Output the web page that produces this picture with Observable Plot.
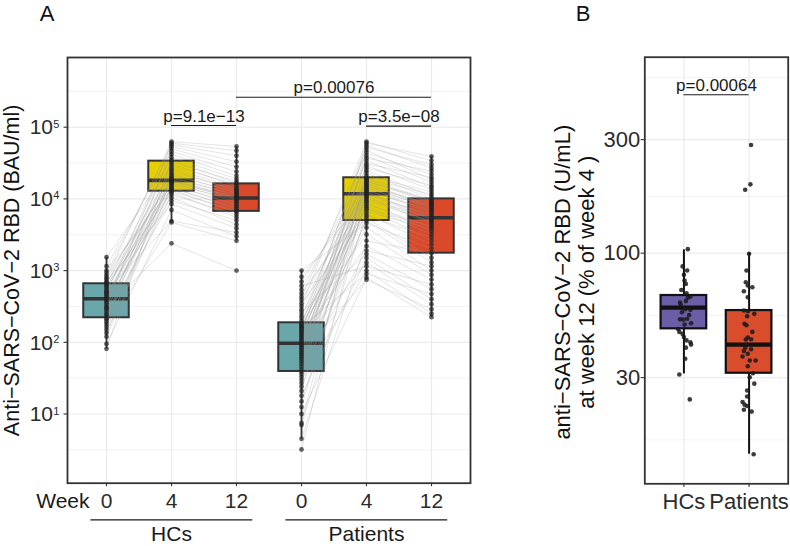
<!DOCTYPE html>
<html><head><meta charset="utf-8">
<script src="https://cdn.jsdelivr.net/npm/d3@7"></script>
<script src="https://cdn.jsdelivr.net/npm/@observablehq/plot@0.6"></script>
<style>
body{margin:0;background:#fff;}
#wrap{position:relative;width:790px;height:546px;overflow:hidden;}
#a{position:absolute;left:0;top:0;}
#b{position:absolute;left:545px;top:0;}
</style></head>
<body><div id="wrap"><div id="a"></div><div id="b"></div></div>
<script>
// ---------- Panel A data ----------
const groups = ["HCs", "Patients"];
const weeks = ["0", "4", "12"];

const hcWeek0 = [300, 150, 520, 95, 700, 240, 430, 180, 620, 350, 1000, 210, 470, 120, 560, 330, 860, 250, 404, 165, 680, 290, 590, 135, 450, 760, 222, 390, 1540, 270, 510, 81, 650, 370, 1150, 195, 490, 930, 310, 800];
const hcWeek4 = [2400, 4700, 4900, 7000, 8500, 9500, 10500, 11500, 12300, 12800, 13500, 14000, 14500, 15200, 16000, 16500, 17000, 17500, 18000, 18200, 18800, 19500, 20500, 21500, 22500, 24000, 25500, 27000, 29000, 31000, 33000, 35000, 38000, 42000, 46000, 50000, 54000, 57000, 60000, 63000];
const hcWeek12 = [1000, 2600, 3400, 3000, 3900, 5000, 4400, 6000, 5500, 6800, 6500, 7600, 7200, 8500, 8000, 9500, 9000, 10100, 9800, 10500, 10300, 11500, 11000, 12500, 12000, 13500, 13000, 14000, 15800, 15000, 17500, 16500, 19000, 21000, 24000, 28000, 33000, 40000, 47000, 53800];

const ptWeek0 = [70, 10, 162, 30, 610, 97, 18, 265, 42, 126, 4.5, 180, 86, 1000, 54, 24, 350, 114, 7.0, 200, 78, 144, 36, 480, 94, 15, 168, 62, 820, 132, 27, 240, 3.2, 102, 390, 50, 156, 12.5, 82, 700, 39, 187, 120, 21, 290, 66, 150, 7.5, 540, 90, 33, 220, 108, 58, 430, 46, 174, 74, 138, 320];
const ptWeek4 = [745, 800, 900, 1000, 1150, 1300, 1500, 1700, 1900, 2200, 2600, 3200, 4000, 4600, 5000, 5400, 5800, 6200, 6700, 7200, 7600, 8000, 8500, 9000, 9500, 10000, 10500, 11000, 11400, 11800, 12200, 12600, 13000, 13500, 14000, 14500, 15000, 15600, 16200, 16800, 17400, 18000, 18600, 19200, 19700, 21000, 23000, 25000, 27000, 29000, 31000, 34000, 37000, 40000, 44000, 48000, 52000, 56000, 60000, 63000];
const ptWeek12 = [290, 224, 470, 250, 640, 340, 400, 550, 1150, 750, 1750, 870, 1000, 2000, 1300, 1500, 2900, 2300, 3800, 4200, 2600, 3200, 4000, 3500, 4900, 5450, 4500, 4700, 6000, 5100, 5700, 5300, 6900, 6300, 7800, 6600, 8400, 7200, 8100, 7500, 9700, 8700, 9000, 11600, 9300, 12500, 10000, 10800, 15500, 13500, 20000, 14500, 24500, 17000, 22000, 18500, 30000, 27000, 39000, 34000];

// box summaries: HCs 0,4,12 then Patients 0,4,12
const boxLowA = [81, 4700, 2600, 4.5, 745, 224];
const boxQ1A = [220, 12800, 6700, 39.2, 5000, 1750];
const boxMedA = [404, 18100, 10300, 97, 11800, 5450];
const boxQ3A = [655, 33600, 16200, 187, 19700, 10000];
const boxHighA = [1540, 63000, 53800, 1000, 63000, 39000];

const yTicksA = [10, 100, 1000, 10000, 100000];
const yTickBaseA = ["10", "10", "10", "10", "10"];
const yTickExpA = ["1", "2", "3", "4", "5"];
const yMinorA = [Math.pow(10,0.5), Math.pow(10,1.5), Math.pow(10,2.5), Math.pow(10,3.5), Math.pow(10,4.5), Math.pow(10,5.5)];

const pLabelsA = ["p=9.1e\u221213", "p=0.00076", "p=3.5e\u221208"];
const pFromA = [["HCs","4"], ["HCs","12"], ["Patients","4"]];
const pToA = [["HCs","12"], ["Patients","12"], ["Patients","12"]];
const pYA = [105500, 262000, 103500];

// ---------- Panel B data ----------
const hcRatio = [104, 84.6, 81.1, 76.8, 74.3, 67.9, 65.8, 65.0, 62.9, 60.8, 58.2, 57.8, 56.5, 52.8, 52.6, 53.0, 50.8, 50.1, 46.7, 45.8, 44.4, 42.2, 41.3, 40.1, 30.9, 24.3, 88, 70, 62, 55, 48, 43, 36];
const hcJitter = [0.06, 0.05, 0, 0.01, 0.03, 0.04, 0.10, 0.06, 0.03, -0.05, 0.02, 0.10, -0.03, -0.06, -0.01, 0.05, 0.11, 0.01, -0.07, -0.02, 0, 0.10, 0.11, 0.03, -0.07, 0.09, -0.02, -0.04, -0.06, 0.08, -0.09, 0.04, 0.02];
const ptRatio = [285, 194.6, 184.6, 99.4, 84.6, 75.5, 73.1, 69.2, 71.9, 65.3, 57.4, 57.0, 55.6, 54.3, 50.5, 49.8, 46.7, 44.2, 43.4, 43.5, 41.3, 40.1, 39.5, 38.8, 37.8, 36.8, 35.4, 35.4, 33.5, 31.3, 30.1, 28.3, 26.5, 25.0, 23.7, 23.1, 22.8, 22.0, 21.6, 14.3];
const ptJitter = [0.03, 0.02, -0.06, 0, -0.04, -0.05, -0.02, -0.08, 0.05, -0.02, -0.08, -0.02, 0.08, -0.03, -0.07, -0.04, 0.05, -0.02, -0.05, 0.03, -0.03, -0.06, 0.03, -0.08, -0.02, -0.10, 0.01, 0.10, -0.02, 0.06, 0.01, 0.08, -0.03, -0.03, -0.10, -0.07, -0.03, -0.08, 0.04, 0.07];

const boxLowB = [31.1, 14.3];
const boxQ1B = [48.1, 31.3];
const boxMedB = [59.0, 41.3];
const boxQ3B = [66.4, 57.4];
const boxHighB = [103.3, 100];

const yTicksB = [30, 100, 300];
const yTickLabelsB = ["30", "100", "300"];
const yMinorB = [Math.pow(10,1.2155), Math.pow(10,1.7386), Math.pow(10,2.2386), Math.pow(10,2.7386)];
const pLabelB = "p=0.00064";
const pYB = 463;

// ---------- build ----------
const FONT = "'Liberation Sans', Arial, Helvetica, sans-serif";
const slot = (g, w) => groups.indexOf(g) * 3 + weeks.indexOf(w) + 1;

const rowsA = [];
[["HCs", [hcWeek0, hcWeek4, hcWeek12]], ["Patients", [ptWeek0, ptWeek4, ptWeek12]]].forEach(([g, arrs]) => {
  arrs[0].forEach((_, i) => {
    weeks.forEach((w, k) => rowsA.push({subject: g + i, group: g, week: w, pos: slot(g, w), value: arrs[k][i]}));
  });
});
const boxKeys = groups.flatMap(g => weeks.map(w => ({g, w})));
const boxesA = boxKeys.map((k, i) => ({pos: slot(k.g, k.w), week: k.w, low: boxLowA[i], q1: boxQ1A[i], med: boxMedA[i], q3: boxQ3A[i], high: boxHighA[i]}));
const bracketsA = pLabelsA.map((t, i) => ({label: t, from: slot(...pFromA[i]), to: slot(...pToA[i]), y: pYA[i]}));
const xTicksA = boxKeys.map(k => ({pos: slot(k.g, k.w), label: k.w}));
const yDomA = [Math.pow(10, 0.035), Math.pow(10, 5.972)];
const HW = 0.35;

const plotA = Plot.plot({
  width: 545, height: 546,
  marginLeft: 67, marginRight: 75, marginTop: 57, marginBottom: 63.3,
  x: {type: "linear", domain: [0.4, 6.6], axis: null},
  y: {type: "log", domain: yDomA, axis: null},
  color: {domain: weeks, range: ["#6aa7ab", "#e6cf00", "#da4a2a"]},
  style: {fontFamily: FONT, fontSize: "21px", color: "#1a1a1a", background: "#fff", overflow: "visible"},
  marks: [
    Plot.ruleY(yMinorA, {stroke: "#ececec", strokeWidth: 0.7}),
    Plot.ruleY(yTicksA, {stroke: "#ebebeb", strokeWidth: 1.2}),
    Plot.ruleX(xTicksA, {x: "pos", stroke: "#ebebeb", strokeWidth: 1.2}),
    Plot.ruleX(boxesA, {x: "pos", y1: "low", y2: "high", stroke: "#333", strokeWidth: 1.8}),
    Plot.rect(boxesA, {x1: d => d.pos - HW, x2: d => d.pos + HW, y1: "q1", y2: "q3", fill: "week", stroke: "#333", strokeWidth: 2}),
    Plot.ruleY(boxesA, {y: "med", x1: d => d.pos - HW, x2: d => d.pos + HW, stroke: "#333", strokeWidth: 3.6}),
    Plot.line(rowsA, {x: "pos", y: "value", z: "subject", stroke: "#9a9a9a", strokeWidth: 0.45, strokeOpacity: 0.6}),
    Plot.dot(rowsA, {x: "pos", y: "value", r: 2.4, fill: "#222", fillOpacity: 0.7, stroke: "none"}),
    Plot.frame({stroke: "#333", strokeWidth: 1.8}),
    Plot.axisY(yTicksA, {tickSize: 3.5, tickFormat: () => "", stroke: "#333", strokeWidth: 1.1, label: null}),
    Plot.axisX(xTicksA.map(d => d.pos), {tickSize: 3.5, tickFormat: () => "", stroke: "#333", strokeWidth: 1.1, label: null}),
    Plot.text(yTicksA, {y: d => d, text: (d, i) => yTickBaseA[i], frameAnchor: "left", textAnchor: "end", lineAnchor: "bottom", dx: -14.5, dy: 7.3, fontSize: 21, fill: "#2b2b2b"}),
    Plot.text(yTicksA, {y: d => d, text: (d, i) => yTickExpA[i], frameAnchor: "left", textAnchor: "start", lineAnchor: "bottom", dx: -14.2, dy: 0.6, fontSize: 11, fill: "#2b2b2b"}),
    Plot.text(xTicksA, {x: "pos", text: "label", frameAnchor: "bottom", lineAnchor: "bottom", dy: 25, fontSize: 21, fill: "#2b2b2b"}),
    Plot.text(["Week"], {text: d => d, frameAnchor: "bottom-left", textAnchor: "end", lineAnchor: "bottom", dx: 22, dy: 25, fontSize: 21, fill: "#1a1a1a"}),
    Plot.ruleY(groups, {y: () => yDomA[0], x1: g => slot(g, "0") - 0.24, x2: g => slot(g, "12") + 0.25, dy: 36.6, stroke: "#1a1a1a", strokeWidth: 1.3}),
    Plot.text(groups, {x: g => slot(g, "4"), text: d => d, frameAnchor: "bottom", lineAnchor: "bottom", dy: 58.2, fontSize: 21, fill: "#1a1a1a"}),
    Plot.text(["Anti\u2212SARS\u2212CoV\u22122 RBD (BAU/ml)"], {text: d => d, frameAnchor: "left", rotate: -90, textAnchor: "middle", lineAnchor: "bottom", dx: -48.5, fontSize: 21.5, fill: "#111"}),
    Plot.text(["A"], {text: d => d, frameAnchor: "top-left", textAnchor: "middle", lineAnchor: "bottom", dx: -20.3, dy: -37, fontSize: 22, fill: "#111"}),
    Plot.ruleY(bracketsA, {y: "y", x1: "from", x2: "to", stroke: "#1a1a1a", strokeWidth: 1.1}),
    Plot.text(bracketsA, {x: d => (d.from + d.to) / 2, y: "y", text: "label", lineAnchor: "bottom", dy: -3.8, fontSize: 17, fill: "#1a1a1a"})
  ]
});
document.getElementById("a").appendChild(plotA);

// ---------- Panel B ----------
const rowsB = hcRatio.map((v, i) => ({group: "HCs", pos: 1 + hcJitter[i], value: v}))
  .concat(ptRatio.map((v, i) => ({group: "Patients", pos: 2 + ptJitter[i], value: v})));
const boxesB = groups.map((g, i) => ({group: g, pos: i + 1, low: boxLowB[i], q1: boxQ1B[i], med: boxMedB[i], q3: boxQ3B[i], high: boxHighB[i]}));

const plotB = Plot.plot({
  width: 245, height: 546,
  marginLeft: 99.3, marginRight: 2.3, marginTop: 56.7, marginBottom: 62.7,
  x: {type: "linear", domain: [0.4, 2.6], axis: null},
  y: {type: "log", domain: [10.74, 666], axis: null},
  color: {domain: groups, range: ["#6b5ea6", "#d94c2c"]},
  style: {fontFamily: FONT, fontSize: "22px", color: "#1a1a1a", background: "#fff", overflow: "visible"},
  marks: [
    Plot.ruleY(yMinorB, {stroke: "#ececec", strokeWidth: 0.7}),
    Plot.ruleY(yTicksB, {stroke: "#ebebeb", strokeWidth: 1.2}),
    Plot.ruleX(boxesB, {x: "pos", stroke: "#ebebeb", strokeWidth: 1.2}),
    Plot.ruleX(boxesB, {x: "pos", y1: "low", y2: "high", stroke: "#111", strokeWidth: 2}),
    Plot.rect(boxesB, {x1: d => d.pos - HW, x2: d => d.pos + HW, y1: "q1", y2: "q3", fill: "group", stroke: "#111", strokeWidth: 2.2}),
    Plot.ruleY(boxesB, {y: "med", x1: d => d.pos - HW, x2: d => d.pos + HW, stroke: "#111", strokeWidth: 4.2}),
    Plot.dot(rowsB, {x: "pos", y: "value", r: 2.3, fill: "#1a1a1a", fillOpacity: 0.85, stroke: "none"}),
    Plot.frame({stroke: "#333", strokeWidth: 1.8}),
    Plot.axisY(yTicksB, {tickSize: 3.7, tickFormat: () => "", stroke: "#333", strokeWidth: 1.1, label: null}),
    Plot.axisX([1, 2], {tickSize: 3.7, tickFormat: () => "", stroke: "#333", strokeWidth: 1.1, label: null}),
    Plot.text(yTicksB, {y: d => d, text: (d, i) => yTickLabelsB[i], frameAnchor: "left", textAnchor: "end", lineAnchor: "middle", dx: -4.5, fontSize: 22, fill: "#2b2b2b"}),
    Plot.text(groups, {x: (d, i) => i + 1, text: d => d, frameAnchor: "bottom", lineAnchor: "bottom", dy: 24.7, fontSize: 22, fill: "#2b2b2b"}),
    Plot.text(["anti\u2212SARS\u2212CoV\u22122 RBD (U/mL)\nat week 12 (% of week 4 )"], {text: d => d, frameAnchor: "left", rotate: -90, textAnchor: "middle", lineAnchor: "bottom", lineHeight: 1.05, dx: -51.3, dy: 11.7, fontSize: 22, fill: "#111"}),
    Plot.text(["B"], {text: d => d, frameAnchor: "top-left", textAnchor: "middle", lineAnchor: "bottom", dx: -61.6, dy: -36.7, fontSize: 22, fill: "#111"}),
    Plot.ruleY([pYB], {y: d => d, x1: 1, x2: 2, stroke: "#1a1a1a", strokeWidth: 1.1}),
    Plot.text([pLabelB], {x: 1.5, y: pYB, text: d => d, lineAnchor: "bottom", dy: -3.6, fontSize: 17, fill: "#1a1a1a"})
  ]
});
document.getElementById("b").appendChild(plotB);
</script>
</body></html>
